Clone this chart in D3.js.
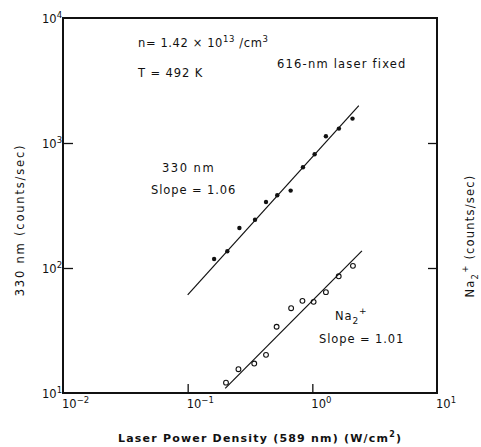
<!DOCTYPE html>
<html><head><meta charset="utf-8">
<script src="https://cdn.jsdelivr.net/npm/d3@7"></script>
<style>
html,body{margin:0;padding:0;background:#fff;}
svg text{font-family:"DejaVu Sans",sans-serif;fill:#111;}
</style></head>
<body><svg id="c" width="481" height="447"></svg>
<script>
// ---- data ----
const powers330 = [0.163,0.208,0.260,0.347,0.425,0.523,0.670,0.841,1.043,1.285,1.634,2.10];
const counts330 = [118,136,209,243,337,382,416,639,812,1132,1304,1568];
const powersNa  = [0.203,0.2555,0.342,0.425,0.517,0.676,0.833,1.024,1.285,1.628,2.117];
const countsNa  = [12.1,15.5,17.2,20.2,33.9,47.7,54.6,53.6,64.1,85.8,104];
const fit330X = [0.1, 2.36];
const fit330Y = [61, 1990];
const fitNaX = [0.2, 2.5];
const fitNaY = [10.9, 137];
const xTickExp = [-2, -1, 0, 1];
const yTickExp = [1, 2, 3, 4];

const svg = d3.select("#c");
const L=63, R=437, T=18, B=393;
const x = d3.scaleLog().domain([0.01,10]).range([L,R]);
const y = d3.scaleLog().domain([10,1e4]).range([B,T]);

// inner ticks
const inner = [0.1,1];
svg.append("g").attr("transform",`translate(0,${B})`)
  .call(d3.axisBottom(x).tickValues(inner).tickSizeInner(-9).tickSizeOuter(0).tickFormat(""))
  .call(g=>{g.select(".domain").remove(); g.selectAll("line").attr("stroke","#111").attr("stroke-width",1.3);});
svg.append("g").attr("transform",`translate(${L},0)`)
  .call(d3.axisLeft(y).tickValues([100,1000]).tickSizeInner(-10).tickSizeOuter(0).tickFormat(""))
  .call(g=>{g.select(".domain").remove(); g.selectAll("line").attr("stroke","#111").attr("stroke-width",1.3);});
svg.append("g").attr("transform",`translate(${R},0)`)
  .call(d3.axisRight(y).tickValues([100,1000]).tickSizeInner(-9).tickSizeOuter(0).tickFormat(""))
  .call(g=>{g.select(".domain").remove(); g.selectAll("line").attr("stroke","#111").attr("stroke-width",1.3);});

// frame
svg.append("rect").attr("x",L).attr("y",T).attr("width",R-L).attr("height",B-T)
  .attr("fill","none").attr("stroke","#111").attr("stroke-width",2);

// tick labels
function pow10(g, exp){
  const t = g.append("text");
  t.append("tspan").text("10");
  t.append("tspan").attr("dy",-5).attr("font-size",8.5).text(exp<0?"\u2212"+(-exp):exp);
  return t;
}
xTickExp.forEach(e=>{
  pow10(svg,e).attr("x",x(Math.pow(10,e))-1).attr("y",408).attr("font-size",11.5).attr("text-anchor","start");
});
yTickExp.forEach(e=>{
  pow10(svg,e).attr("x",L-21).attr("y",y(Math.pow(10,e))+5).attr("font-size",11.5);
});

// fit lines
const line = d3.line().x(d=>x(d[0])).y(d=>y(d[1]));
svg.append("path").attr("d",line(fit330X.map((v,i)=>[v,fit330Y[i]])))
  .attr("fill","none").attr("stroke","#111").attr("stroke-width",1.2);
svg.append("path").attr("d",line(fitNaX.map((v,i)=>[v,fitNaY[i]])))
  .attr("fill","none").attr("stroke","#111").attr("stroke-width",1.2);

// points
svg.selectAll(".p330").data(powers330.map((v,i)=>[v,counts330[i]])).enter()
  .append("circle").attr("cx",d=>x(d[0])).attr("cy",d=>y(d[1])).attr("r",2.2).attr("fill","#111");
svg.selectAll(".pNa").data(powersNa.map((v,i)=>[v,countsNa[i]])).enter()
  .append("circle").attr("cx",d=>x(d[0])).attr("cy",d=>y(d[1])).attr("r",2.4)
  .attr("fill","none").attr("stroke","#111").attr("stroke-width",1.1);

// annotations
const ann = svg.append("g").attr("font-size",11.5).attr("letter-spacing",0.9);
let t = ann.append("text").attr("x",138).attr("y",47).attr("letter-spacing",0.6);
t.append("tspan").text("n= 1.42 \u00d7 10");
t.append("tspan").attr("dy",-5).attr("font-size",8.5).text("13");
t.append("tspan").attr("dy",5).text(" /cm");
t.append("tspan").attr("dy",-5).attr("font-size",8.5).text("3");
ann.append("text").attr("x",138).attr("y",77).text("T = 492 K");
ann.append("text").attr("x",277).attr("y",68).attr("letter-spacing",1.2).text("616-nm laser fixed");
ann.append("text").attr("x",162).attr("y",172).attr("letter-spacing",1.5).text("330 nm");
ann.append("text").attr("x",151).attr("y",194).text("Slope = 1.06");
t = ann.append("text").attr("x",335).attr("y",320);
t.append("tspan").text("Na");
t.append("tspan").attr("dy",4).attr("font-size",9).text("2");
t.append("tspan").attr("dy",-10).attr("font-size",9).text("+");
ann.append("text").attr("x",319).attr("y",343).text("Slope = 1.01");

// axis titles
t = svg.append("text").attr("x",118).attr("y",442).attr("font-size",11).attr("font-weight","bold").attr("letter-spacing",1.2);
t.append("tspan").text("Laser Power Density (589 nm) (W/cm");
t.append("tspan").attr("dy",-5).attr("font-size",8).text("2");
t.append("tspan").attr("dy",5).text(")");

svg.append("text").attr("transform","translate(24,220) rotate(-90)").attr("text-anchor","middle")
  .attr("font-size",11.5).attr("letter-spacing",1.8).text("330 nm (counts/sec)");
t = svg.append("text").attr("transform","translate(474,236) rotate(-90)").attr("text-anchor","middle")
  .attr("font-size",11.5).attr("letter-spacing",1.2);
t.append("tspan").text("Na");
t.append("tspan").attr("dy",4).attr("font-size",8.5).text("2");
t.append("tspan").attr("dy",-10).attr("font-size",8.5).text("+");
t.append("tspan").attr("dy",6).text("   (counts/sec)");
</script></body></html>
